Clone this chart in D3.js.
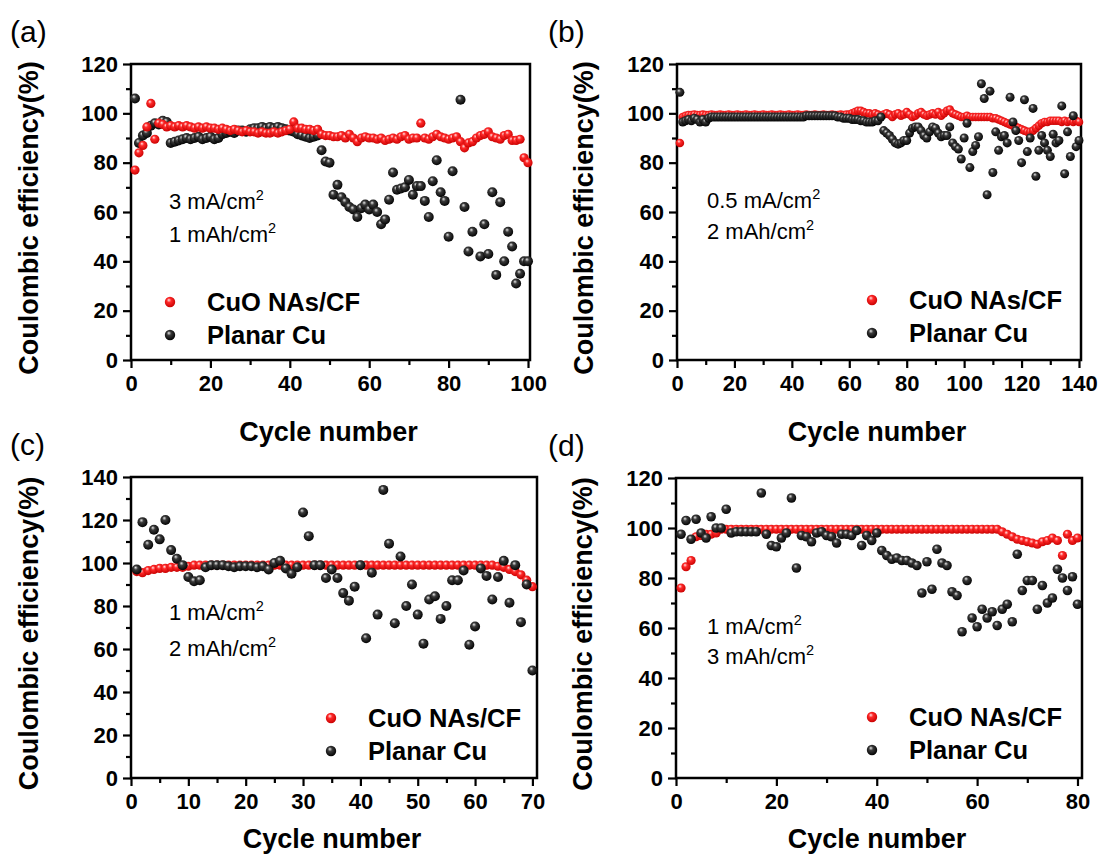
<!DOCTYPE html>
<html><head><meta charset="utf-8">
<script src="https://cdn.jsdelivr.net/npm/d3@7"></script>
<style>
body{margin:0;background:#fff}
svg text{font-family:"Liberation Sans",Arial,Helvetica,sans-serif;fill:#000}
</style></head><body>
<svg id="chart" width="1102" height="854"></svg>
<script>
// Coulombic efficiency (%) per cycle, index 0 = cycle 1; null = no marker
const cuoA = [77,84,87,94.5,104,89.5,96,95.5,94.5,95,
94.5,95,94.5,95,94.5,94,94.5,94,94.5,94,
94,93.5,94,93.5,93,93.5,93,92.5,93,92.5,
92.5,92,92.5,92,92,92.5,92,92.5,93,93.5,
96.5,94,94,93.5,93.5,93,93.5,91.5,91,91,
90.5,90.5,91,90,91.5,90,88.5,90,90.5,90,
90,89.5,90,89,89.5,90,89.5,90.5,91,89.5,
90,90,96,90,89.5,90.5,91.5,90.5,90,89.5,
90,90.5,88.5,86,88,88.5,90,91,91.5,92.5,
90.5,90,89.5,91,91.5,89,89,89.5,82,80];
const planarA = [106,88,91,92,95,96,95.5,97,96.5,88,
88.5,89,89.5,90,89.5,90,90.5,89.5,90,90.5,
89.5,90,91.5,92,92.5,92,93,93,92.5,93.5,
94,94,94.5,94,94.5,94,94.5,94,93.5,93,
92.5,91.5,91,90.5,90,90.5,91,85,80.5,80,
67,71,66,64,62,61,58,61.5,63,61,
63,60,55,57,65,76,69,69.5,70,73,
67,70.5,70.5,64.5,58,72.5,81,68,64.5,50,
76.5,null,105.5,62,44,52,null,42,55,43,
68,34.5,64,40,52,46,31,35,40,40];

const cuoB = [88,98.5,99,99.3,99.3,99.5,99.3,99.3,99.5,99.3,
99.3,99.5,99.3,99.3,99.5,99.3,99.3,99.5,99.3,99.3,
99.5,99.3,99.3,99.5,99.3,99.3,99.5,99.3,99.3,99.5,
99.3,99.3,99.5,99.3,99.3,99.5,99.3,99.3,99.5,99.3,
99.3,99.5,99.3,99.3,99.5,99.3,99.3,99.5,99.3,99.3,
99.5,99.3,99.3,99.5,99.3,99.3,99.5,99.3,99.5,99.5,
100,100.5,101,101,100.5,100,100,99.5,100,99.5,
99,99.5,100,99.5,98.5,99.5,100,99,99.5,100.5,
99.5,98.5,99,100,100.5,99.5,99,99.5,100,99.5,
100.5,99,100,101,101.5,100,99.5,99,98.5,98.5,
99,98.5,98.5,98.5,98.5,98.5,98.5,98.5,98.5,98,
98,97.5,97,96.5,96,95.5,95,94.5,94,93.5,
93,92.5,92.5,93,94,95,96,96.5,96.5,97,
97,97,97,96.5,97,96.5,97,96.5,97,96.5];
const planarB = [108.5,96.5,97,97.5,97,98,97.5,96.5,97.5,96.5,
98,98.5,98.5,98.5,98.5,98.5,98.5,98.5,98.5,98.5,
98.5,98.5,98.5,98.5,98.5,98.5,98.5,98.5,98.5,98.5,
98.5,98.5,98.5,98.5,98.5,98.5,98.5,98.5,98.5,98.5,
98.5,98.5,98.5,98.5,99,99,99,99,99,99,
99,99,99,99,99,98.5,98.5,98,98,98,
97.5,97.5,97.5,97,97,96.5,96.5,96.5,97,97,
98.5,93,92,91,89.5,88,87.5,88,89,89,
92,94,94.5,94.5,93,91,90,92.5,94.5,94,
92,90.5,91,91,94.5,88,86.5,85.5,81.5,90,
96,78,84.5,87,90.5,112,106,67,109,76,
92.5,85,90.5,91,88,106.5,96.5,93,89,80,
105.5,84.5,90,102,74.5,85,91,88,85,82.5,
91.5,88,89,103,75.5,92.5,82.5,99,86.5,89];

const cuoC = [96,95.5,96.5,97,97.5,97.5,98,98,98,98.5,
99,99,99,99,99,99,99,99,99,99,
99,99,99,99,99,99,99,99,99,99,
99,99,99,99,99,99,99,99,99,99,
99,99,99,99,99,99,99,99,99,99,
99,99,99,99,99,99,99,99,99,99,
99,99,99,98.5,98,97,96,94.5,92,89];
const planarC = [97,119,108.5,115.5,111,120,106,102,99,93.5,
91.5,92,98,99,99,99,98.5,98,98.5,98.5,
98.5,98,98.5,97,100,101,97.5,95,98,123.5,
112.5,99,99,93,97,93,86,82.5,89,99,
65,95.5,76,134,109,72,103,80,90,76,
62.5,83,84.5,74,80,92,92,96.5,62,70.5,
97.5,94,83,93.5,101,81.5,99,72.5,90,50];

const cuoD = [76,84.5,87,96.5,97,97.5,97.5,98,99.5,99.5,
99.5,99.5,99.5,99.5,99.5,99.5,99.5,99.5,99.5,99.5,
99.5,99.5,99.5,99.5,99.5,99.5,99.5,99.5,99.5,99.5,
99.5,99.5,99.5,99.5,99.5,99.5,99.5,99.5,99.5,99.5,
99.5,99.5,99.5,99.5,99.5,99.5,99.5,99.5,99.5,99.5,
99.5,99.5,99.5,99.5,99.5,99.5,99.5,99.5,99.5,99.5,
99.5,99.5,99.5,99.5,98.5,97.5,96.5,95.5,95,94.5,
94,93.5,94.5,95,96,95,89,97.5,95,96];
const planarD = [97.5,103,95.5,103.5,98,96,104.5,100,100,107.5,
98,98.5,98.5,98.5,98.5,98.5,114,97.5,93,92.5,
96,98,112,84,97,96.5,94.5,98,98.5,97,
96.5,94,97.5,97.5,97,99,93,97,95,98,
91,89,87.5,88,87,87,86,85,74,86.5,
75.5,91.5,86,85,74.5,73,58.5,79,64,60.5,
67.5,64,66.5,61,67.5,69.5,62.5,89.5,75,79,
79,67.5,77,70,72,83.5,80,75,80.5,69.5];

// axis tick values
const xTicksA = [0,20,40,60,80,100];
const xTicksB = [0,20,40,60,80,100,120,140];
const xTicksC = [0,10,20,30,40,50,60,70];
const xTicksD = [0,20,40,60,80];
const yTicks120 = [0,20,40,60,80,100,120];
const yTicks140 = [0,20,40,60,80,100,120,140];

const seriesNames = ["CuO NAs/CF", "Planar Cu"];
const panelTags = ["(a)", "(b)", "(c)", "(d)"];
const rateText = [["3 mA/cm", "1 mAh/cm"], ["0.5 mA/cm", "2 mAh/cm"], ["1 mA/cm", "2 mAh/cm"], ["1 mA/cm", "3 mAh/cm"]];

const svg = d3.select("#chart");
const defs = svg.append("defs");

function ballGradient(id, hi, mid, edge) {
  const gr = defs.append("radialGradient").attr("id", id)
    .attr("cx", "45%").attr("cy", "42%").attr("r", "60%")
    .attr("fx", "38%").attr("fy", "30%");
  gr.append("stop").attr("offset", "0%").attr("stop-color", hi);
  gr.append("stop").attr("offset", "35%").attr("stop-color", mid);
  gr.append("stop").attr("offset", "100%").attr("stop-color", edge);
}
ballGradient("ballRed", "#ffe4e4", "#ff2a2a", "#c80000");
ballGradient("ballBlack", "#e8e8e8", "#3a3a3a", "#000000");

const panels = [
  {tag: 0, left: 131, right: 530, top: 64, bottom: 360, xMax: 100.5, yMax: 120, titleGap: 81, tagDx: 121, yTitleDx: 93,
   xTicks: xTicksA, xMinor: 10, yTicks: yTicks120, red: cuoA, black: planarA, redOnTop: true,
   rR: 4.6, rB: 5, legX: 170, legY: 302, noteX: 169, noteY: 209, noteGap: 33},
  {tag: 1, left: 677, right: 1081, top: 64, bottom: 360, xMax: 140.7, yMax: 120, titleGap: 81, tagDx: 129, yTitleDx: 84,
   xTicks: xTicksB, xMinor: 10, yTicks: yTicks120, red: cuoB, black: planarB, redOnTop: false,
   rR: 4.3, rB: 4.5, legX: 872, legY: 300, noteX: 707, noteY: 208, noteGap: 31},
  {tag: 2, left: 131, right: 537, top: 477, bottom: 778, xMax: 70.8, yMax: 140, titleGap: 70, tagDx: 121, yTitleDx: 93,
   xTicks: xTicksC, xMinor: 5, yTicks: yTicks140, red: cuoC, black: planarC, redOnTop: false,
   rR: 4.6, rB: 5, legX: 331, legY: 718, noteX: 169, noteY: 620, noteGap: 36},
  {tag: 3, left: 676, right: 1082, top: 478, bottom: 778, xMax: 80.9, yMax: 120, titleGap: 70, tagDx: 128, yTitleDx: 84,
   xTicks: xTicksD, xMinor: 10, yTicks: yTicks120, red: cuoD, black: planarD, redOnTop: false,
   rR: 4.6, rB: 4.8, legX: 872, legY: 717, noteX: 707, noteY: 634, noteGap: 30}
];

function drawPanel(p) {
  const g = svg.append("g");
  const x = d3.scaleLinear().domain([0, p.xMax]).range([p.left, p.right]);
  const y = d3.scaleLinear().domain([0, p.yMax]).range([p.bottom, p.top]);

  const xMinorVals = d3.range(0, p.xMax, p.xMinor).filter(v => !p.xTicks.includes(v));
  const yMinorVals = d3.range(0, p.yMax, 10).filter(v => !p.yTicks.includes(v));

  // minor ticks
  g.append("g").attr("transform", `translate(0,${p.bottom})`)
    .call(d3.axisBottom(x).tickValues(xMinorVals).tickSize(5).tickFormat(""))
    .call(s => s.select(".domain").remove())
    .selectAll("line").attr("stroke-width", 2.2);
  g.append("g").attr("transform", `translate(${p.left},0)`)
    .call(d3.axisLeft(y).tickValues(yMinorVals).tickSize(5).tickFormat(""))
    .call(s => s.select(".domain").remove())
    .selectAll("line").attr("stroke-width", 2.2);

  // major ticks and labels
  const xa = g.append("g").attr("transform", `translate(0,${p.bottom})`)
    .call(d3.axisBottom(x).tickValues(p.xTicks).tickSize(8).tickPadding(7).tickFormat(d3.format("d")));
  xa.select(".domain").remove();
  xa.selectAll("line").attr("stroke-width", 2.2);
  xa.selectAll("text").attr("font-size", 22).attr("font-weight", "bold")
    .style("font-family", '"Liberation Sans",Arial,sans-serif');

  const ya = g.append("g").attr("transform", `translate(${p.left},0)`)
    .call(d3.axisLeft(y).tickValues(p.yTicks).tickSize(8).tickPadding(5).tickFormat(d3.format("d")));
  ya.select(".domain").remove();
  ya.selectAll("line").attr("stroke-width", 2.2);
  ya.selectAll("text").attr("font-size", 22).attr("font-weight", "bold")
    .style("font-family", '"Liberation Sans",Arial,sans-serif');

  // frame
  g.append("rect").attr("x", p.left).attr("y", p.top)
    .attr("width", p.right - p.left).attr("height", p.bottom - p.top)
    .attr("fill", "none").attr("stroke", "#000").attr("stroke-width", 2.5);

  // axis titles
  g.append("text").attr("x", (p.left + p.right) / 2 - 2).attr("y", p.bottom + p.titleGap)
    .attr("text-anchor", "middle").attr("font-size", 27).attr("font-weight", "bold")
    .text("Cycle number");
  g.append("text")
    .attr("transform", `translate(${p.left - p.yTitleDx},${(p.top + p.bottom) / 2 + 6}) rotate(-90)`)
    .attr("text-anchor", "middle").attr("font-size", 27).attr("font-weight", "bold")
    .text("Coulombic efficiency(%)");

  // panel tag
  g.append("text").attr("x", p.left - p.tagDx).attr("y", p.top - 22)
    .attr("font-size", 30).text(panelTags[p.tag]);

  // rate / capacity note
  rateText[p.tag].forEach((t, i) => {
    const tx = g.append("text").attr("x", p.noteX).attr("y", p.noteY + i * p.noteGap)
      .attr("font-size", 22);
    tx.append("tspan").text(t);
    tx.append("tspan").attr("dy", -9).attr("font-size", 14.5).text("2");
  });

  // markers
  const pts = arr => arr.map((v, i) => ({c: i + 1, v})).filter(d => d.v !== null);
  const drawSet = (arr, grad, r) => {
    g.append("g").selectAll("circle").data(pts(arr)).join("circle")
      .attr("cx", d => x(d.c)).attr("cy", d => y(d.v)).attr("r", r)
      .attr("fill", `url(#${grad})`);
  };
  if (p.redOnTop) {
    drawSet(p.black, "ballBlack", p.rB);
    drawSet(p.red, "ballRed", p.rR);
  } else {
    drawSet(p.red, "ballRed", p.rR);
    drawSet(p.black, "ballBlack", p.rB);
  }

  // legend
  seriesNames.forEach((name, i) => {
    const ly = p.legY + i * 33;
    g.append("circle").attr("cx", p.legX).attr("cy", ly).attr("r", 5.2)
      .attr("fill", i === 0 ? "url(#ballRed)" : "url(#ballBlack)");
    g.append("text").attr("x", p.legX + 37).attr("y", ly + 9)
      .attr("font-size", 25.5).attr("font-weight", "bold").text(name);
  });
}

panels.forEach(drawPanel);
</script>
</body></html>
